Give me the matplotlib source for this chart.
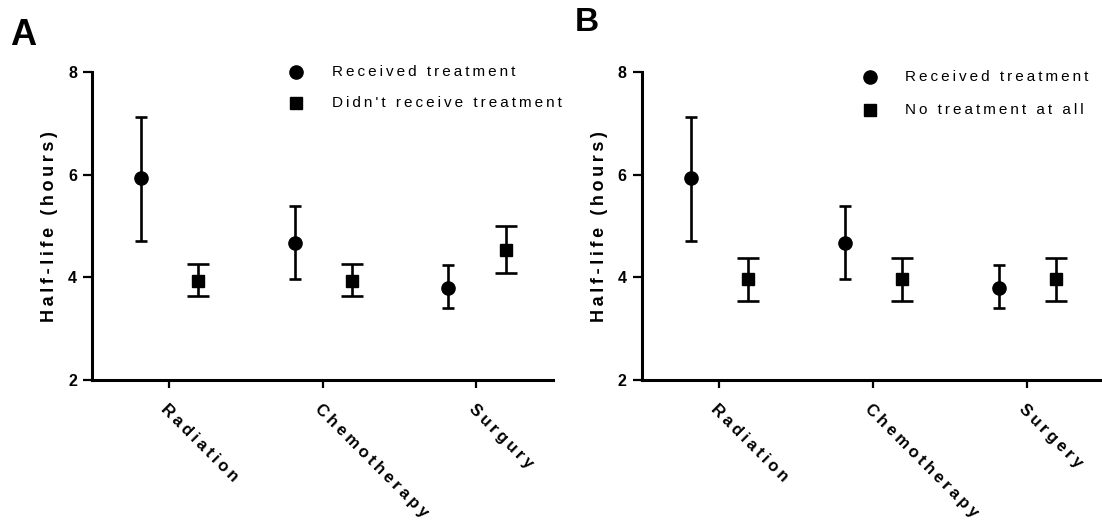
import numpy as np
import matplotlib
matplotlib.use('Agg')
import matplotlib.pyplot as plt

plt.rcParams['font.family'] = ['Liberation Sans', 'DejaVu Sans']

# category positions and labels
x_pos = [0.5, 1.5, 2.5]
treat_a = ['Radiation', 'Chemotherapy', 'Surgury']
treat_b = ['Radiation', 'Chemotherapy', 'Surgery']
yticks = [2, 4, 6, 8]

# received treatment (same in both panels)
recv_mean = [5.93, 4.68, 3.80]
recv_hi = [7.13, 5.40, 4.24]
recv_lo = [4.72, 3.97, 3.40]

# panel A: didn't receive that treatment
didnt_mean = [3.94, 3.94, 4.53]
didnt_hi = [4.26, 4.26, 5.01]
didnt_lo = [3.63, 3.63, 4.08]

# panel B: no treatment at all
none_mean = [3.97, 3.97, 3.97]
none_hi = [4.38, 4.38, 4.38]
none_lo = [3.55, 3.55, 3.55]

ylab = 'Half-life (hours)'
leg_recv = 'Received treatment'
leg_didnt = "Didn't receive treatment"
leg_none = 'No treatment at all'


def track(s, n=1):
    # fake letter spacing with thin spaces
    return ('\u2009' * n).join(s)


def panel(ax, cats, m2, hi2, lo2, lab2, leg):
    x = np.array(x_pos)
    series = [(recv_mean, recv_hi, recv_lo, -0.182, 'o', 9.5, 4.3),
              (m2, hi2, lo2, 0.192, 's', 9.0, 7.9)]
    for mean, hi, lo, dx, mk, ms, cap in series:
        mean = np.array(mean)
        err = [mean - np.array(lo), np.array(hi) - mean]
        ax.errorbar(x + dx, mean, yerr=err, fmt=mk, color='black',
                    ms=ms, elinewidth=1.9, capsize=cap, capthick=1.9)

    ax.set_xlim(0, 3)
    ax.set_ylim(2, 8)
    ax.set_yticks(yticks)
    ax.set_xticks(x_pos)
    ax.set_xticklabels([track(c) for c in cats], rotation=-45,
                       rotation_mode='anchor', ha='left', va='top',
                       fontsize=12, fontweight='bold')
    for t in ax.get_yticklabels():
        t.set_fontweight('bold')
    ax.tick_params(axis='y', length=6.5, width=1.6, pad=4.3, labelsize=11.5)
    ax.tick_params(axis='x', length=6, width=1.6, pad=9.5)
    for s in ['top', 'right']:
        ax.spines[s].set_visible(False)
    for s in ['left', 'bottom']:
        ax.spines[s].set_linewidth(2.2)

    ax.set_ylabel(track(ylab), fontsize=13, fontweight='bold')
    ax.yaxis.set_label_coords(-0.073, 0.5)

    # legend drawn by hand
    lx, ly1, ly2, tx = leg
    ax.plot([lx], [ly1], 'o', ms=9.5, color='black',
            transform=ax.transAxes, clip_on=False)
    ax.plot([lx], [ly2], 's', ms=9.0, color='black',
            transform=ax.transAxes, clip_on=False)
    ax.text(tx, ly1, track(leg_recv), transform=ax.transAxes,
            va='center', fontsize=11)
    ax.text(tx, ly2, track(lab2), transform=ax.transAxes,
            va='center', fontsize=11)


fig = plt.figure(figsize=(11.02, 5.25), dpi=100)
axA = fig.add_axes([92 / 1102, 145 / 525, 461 / 1102, 307.7 / 525])
axB = fig.add_axes([641.7 / 1102, 145 / 525, 462 / 1102, 307.7 / 525])

panel(axA, treat_a, didnt_mean, didnt_hi, didnt_lo, leg_didnt,
      (0.4425, 1.002, 0.899, 0.52))
panel(axB, treat_b, none_mean, none_hi, none_lo, leg_none,
      (0.494, 0.9857, 0.8775, 0.570))

fig.text(10 / 1102, 1 - 45 / 525, 'A', fontsize=26, fontweight='bold')
fig.text(575 / 1102, 1 - 31 / 525, 'B', fontsize=24, fontweight='bold')

fig.savefig('out.png', dpi=100)
